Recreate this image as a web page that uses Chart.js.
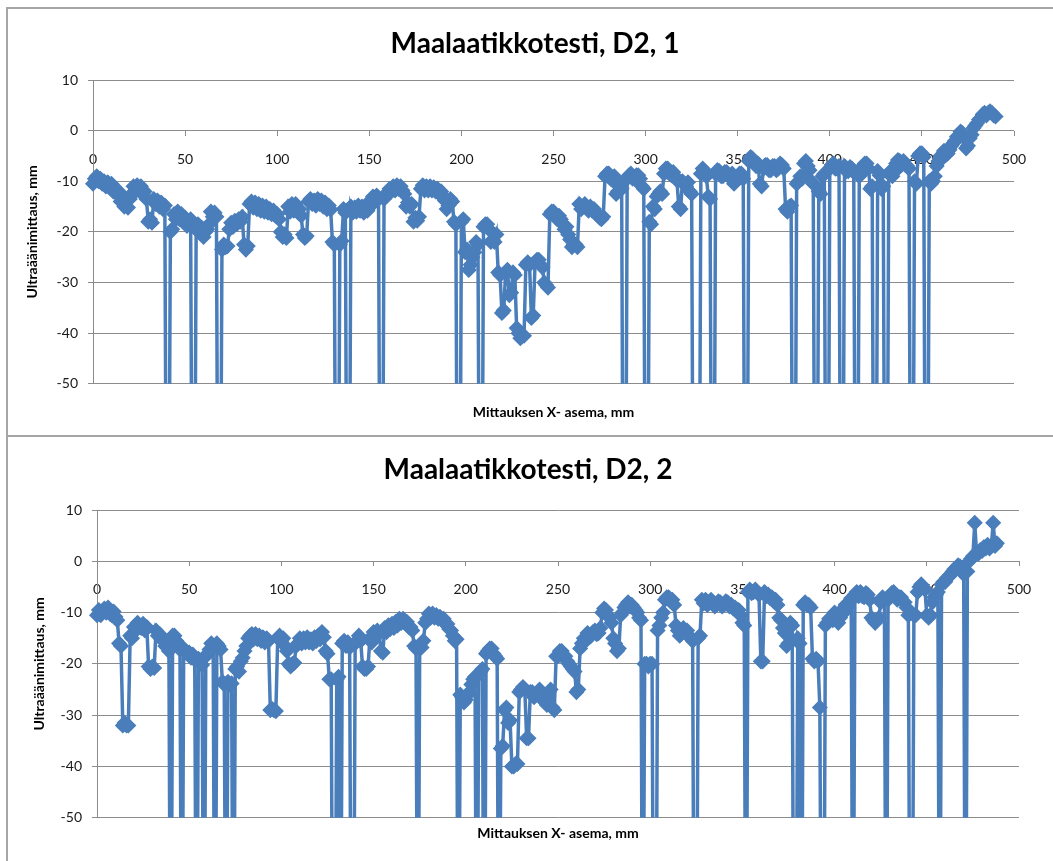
<!DOCTYPE html>
<html>
<head>
<meta charset="utf-8">
<script src="https://cdn.jsdelivr.net/npm/chart.js@4.4.1/dist/chart.umd.min.js"></script>
<style>
  html, body { margin: 0; padding: 0; background: #ffffff; width: 1053px; height: 861px; overflow: hidden; }
  .frame { position: absolute; box-sizing: border-box; border: 2px solid #a6a6a6; }
  #frame1 { left: 6px; top: 7px; width: 1200px; height: 430px; }
  #frame2 { left: 6px; top: 435px; width: 1200px; height: 600px; }
  canvas { position: absolute; }
  #chart1 { left: 8px; top: 9px; }
  #chart2 { left: 8px; top: 437px; }
</style>
</head>
<body>
<div class="frame" id="frame1"></div>
<div class="frame" id="frame2"></div>
<canvas id="chart1" width="1054" height="425"></canvas>
<canvas id="chart2" width="1054" height="424"></canvas>
<script>
// Measurement positions along the box (mm) and ultrasonic readings (mm).
// Readings of -100 are failed echoes that fall far below the plotted range.
const titleRun1 = 'Maalaatikkotesti, D2, 1';
const titleRun2 = 'Maalaatikkotesti, D2, 2';
const xAxisTitle = 'Mittauksen X- asema, mm';
const yAxisTitle = 'Ultraäänimittaus, mm';
const xTicks = [0, 50, 100, 150, 200, 250, 300, 350, 400, 450, 500];
const yTicks = [-50, -40, -30, -20, -10, 0, 10];

const positionsRun1 = [
  0, 1, 2, 3, 4, 5, 6, 7, 8, 9, 10, 11, 12, 13, 14, 15, 16, 17, 18, 19,
  20, 21, 22, 23, 24, 25, 26, 27, 28, 29, 30, 31, 32, 33, 34, 35, 36, 37, 38, 39,
  40, 41, 42, 43, 44, 45, 46, 47, 48, 49, 50, 51, 52, 53, 54, 55, 56, 57, 58, 59,
  60, 61, 62, 63, 64, 65, 66, 67, 68, 69, 70, 71, 72, 73, 74, 75, 76, 77, 78, 79,
  80, 81, 82, 83, 84, 85, 86, 87, 88, 89, 90, 91, 92, 93, 94, 95, 96, 97, 98, 99,
  100, 101, 102, 103, 104, 105, 106, 107, 108, 109, 110, 111, 112, 113, 114, 115, 116, 117, 118, 119,
  120, 121, 122, 123, 124, 125, 126, 127, 128, 129, 130, 131, 132, 133, 134, 135, 136, 137, 138, 139,
  140, 141, 142, 143, 144, 145, 146, 147, 148, 149, 150, 151, 152, 153, 154, 155, 156, 157, 158, 159,
  160, 161, 162, 163, 164, 165, 166, 167, 168, 169, 170, 171, 172, 173, 174, 175, 176, 177, 178, 179,
  180, 181, 182, 183, 184, 185, 186, 187, 188, 189, 190, 191, 192, 193, 194, 195, 196, 197, 198, 199,
  200, 201, 202, 203, 204, 205, 206, 207, 208, 209, 210, 211, 212, 213, 214, 215, 216, 217, 218, 219,
  220, 221, 222, 223, 224, 225, 226, 227, 228, 229, 230, 231, 232, 233, 234, 235, 236, 237, 238, 239,
  240, 241, 242, 243, 244, 245, 246, 247, 248, 249, 250, 251, 252, 253, 254, 255, 256, 257, 258, 259,
  260, 261, 262, 263, 264, 265, 266, 267, 268, 269, 270, 271, 272, 273, 274, 275, 276, 277, 278, 279,
  280, 281, 282, 283, 284, 285, 286, 287, 288, 289, 290, 291, 292, 293, 294, 295, 296, 297, 298, 299,
  300, 301, 302, 303, 304, 305, 306, 307, 308, 309, 310, 311, 312, 313, 314, 315, 316, 317, 318, 319,
  320, 321, 322, 323, 324, 325, 326, 327, 328, 329, 330, 331, 332, 333, 334, 335, 336, 337, 338, 339,
  340, 341, 342, 343, 344, 345, 346, 347, 348, 349, 350, 351, 352, 353, 354, 355, 356, 357, 358, 359,
  360, 361, 362, 363, 364, 365, 366, 367, 368, 369, 370, 371, 372, 373, 374, 375, 376, 377, 378, 379,
  380, 381, 382, 383, 384, 385, 386, 387, 388, 389, 390, 391, 392, 393, 394, 395, 396, 397, 398, 399,
  400, 401, 402, 403, 404, 405, 406, 407, 408, 409, 410, 411, 412, 413, 414, 415, 416, 417, 418, 419,
  420, 421, 422, 423, 424, 425, 426, 427, 428, 429, 430, 431, 432, 433, 434, 435, 436, 437, 438, 439,
  440, 441, 442, 443, 444, 445, 446, 447, 448, 449, 450, 451, 452, 453, 454, 455, 456, 457, 458, 459,
  460, 461, 462, 463, 464, 465, 466, 467, 468, 469, 470, 471, 472, 473, 474, 475, 476, 477, 478, 479,
  480, 481, 482, 483, 484, 485, 486, 487, 488, 489, 490
];
const readingsRun1 = [
  -10.5, -9.5, -9, -10, -9.5, -10.5, -10, -11, -10.2, -11.2,
  -10.5, -12, -11.5, -12.5, -12, -14, -13.5, -15, -14, -15.2,
  -13.5, -12.5, -11, -12, -10.8, -11.8, -11, -12.5, -12, -13.5,
  -18, -17.5, -18.2, -13.5, -14.5, -13.8, -15, -14.2, -15.5, -14.8,
  -100, -100, -20, -19.5, -16.5, -17.5, -16, -17.5, -16.5, -18,
  -17.2, -18.8, -18, -17.5, -100, -100, -19.5, -18.5, -20.2, -19.2,
  -21, -20, -19.5, -18.5, -16, -17, -16.2, -17, -100, -100,
  -23.5, -22.5, -23, -22.8, -19.5, -18.2, -19, -17.8, -18.5, -17.5,
  -18, -17, -22.5, -23.5, -22.8, -14.5, -14, -15.2, -14.2, -15.5,
  -14.5, -15.8, -14.8, -16, -15, -16.2, -15.5, -16.5, -15.8, -16.8,
  -16.5, -17.5, -20, -21, -20.5, -21.2, -15, -16, -14.5, -15.8,
  -14.5, -16, -15.5, -16.8, -20.5, -21.2, -20.8, -14, -13.5, -14.5,
  -13.8, -14.8, -13.5, -14.5, -13.8, -15, -14.2, -15.5, -14.8, -15.6,
  -22, -22.5, -100, -100, -22.5, -21.8, -15.5, -16.2, -100, -100,
  -15, -16.2, -15.2, -16, -14.8, -15.8, -15, -16.2, -15.2, -15.8,
  -14, -14.8, -13, -13.8, -12.8, -13.5, -100, -100, -13.5, -12.5,
  -12.5, -11.5, -12, -11, -11.8, -10.8, -11.5, -11, -11.8, -12.5,
  -15, -14.2, -15, -14.5, -18, -17.2, -17.8, -17, -11.5, -10.8,
  -11.8, -11, -11.8, -11, -11.8, -11.2, -12, -11.5, -12.5, -12,
  -13, -13.8, -15.5, -14.8, -13.5, -14, -18, -18.5, -100, -100,
  -18, -17.5, -24, -23.5, -27.5, -26.5, -25, -24, -22, -22.5,
  -100, -100, -19, -18.5, -18.5, -19.5, -22, -21.5, -22, -20.5,
  -28, -28.5, -36, -35.5, -28, -27.5, -32.5, -32, -28, -28.5,
  -39, -40, -41, -40.5, -40.5, -26.5, -26, -26.5, -37, -36.5,
  -26, -25.5, -25.5, -26.5, -27, -30, -30.5, -31, -16.5, -16,
  -16, -17, -17.5, -16.8, -17.5, -18.5, -19.5, -19, -20.5, -21.5,
  -23, -22.5, -22.5, -23, -14.5, -15.5, -15, -14.5, -15, -15.8,
  -15, -15.8, -15.5, -16.2, -16.5, -17.2, -17.5, -17, -9, -8.5,
  -8.5, -9.5, -9.8, -9, -12.5, -12, -11, -11.5, -100, -100,
  -9.5, -8.8, -8.5, -9.5, -9.5, -8.8, -8.8, -9.5, -11, -11.5,
  -100, -100, -18, -18.5, -15, -15.5, -13, -12.5, -12, -12.5,
  -8.5, -7.5, -7.5, -8.5, -8.8, -8.2, -9, -9.8, -15, -15.5,
  -10, -10.5, -11, -10.2, -12, -12.5, -100, -100, -100, -100,
  -8.5, -7.5, -8, -9, -13, -13.5, -100, -100, -8.5, -7.8,
  -8, -9, -9, -8.2, -8.2, -9, -9, -8.5, -10.5, -10,
  -9.2, -8.5, -8.5, -9.5, -100, -100, -6, -5.2, -5.5, -6.5,
  -7, -6.5, -10.5, -11, -7.5, -6.8, -6.8, -7.8, -7.8, -7,
  -7, -7.8, -7.5, -6.5, -6.8, -7.5, -15.5, -16, -15, -14.8,
  -100, -100, -10.5, -10, -9, -9.5, -6.5, -6, -7, -7.8,
  -10, -10.5, -100, -100, -12, -12.5, -9, -8.5, -100, -100,
  -7.5, -6.8, -6.5, -7.5, -7.5, -7, -100, -100, -7, -8,
  -8, -7.2, -7.5, -8.2, -100, -100, -9, -8.5, -7, -6.5,
  -6.5, -7.5, -11.5, -11, -100, -100, -8, -8.8, -11.5, -11,
  -100, -100, -8.5, -8, -9, -8.2, -6.5, -5.8, -6, -6.8,
  -6, -6.8, -7, -7.5, -100, -100, -10, -10.5, -5, -4.5,
  -4.5, -5.2, -100, -100, -10, -10.5, -10, -9, -7, -6,
  -5, -5.5, -4, -4.8, -4.5, -3.8, -3, -2.5, -2, -1.2,
  -1, -0.2, -0.5, -1.5, -3.5, -3, -1.5, -0.8, 0.5, 1,
  1.5, 2.2, 2.5, 3.2, 3.5, 3, 3.5, 3.8, 3.5, 3,
  2.8
];

const positionsRun2 = [
  0, 1, 2, 3, 4, 5, 6, 7, 8, 9, 10, 11, 12, 13, 14, 15, 16, 17, 18, 19,
  20, 21, 22, 23, 24, 25, 26, 27, 28, 29, 30, 31, 32, 33, 34, 35, 36, 37, 38, 39,
  40, 41, 42, 43, 44, 45, 46, 47, 48, 49, 50, 51, 52, 53, 54, 55, 56, 57, 58, 59,
  60, 61, 62, 63, 64, 65, 66, 67, 68, 69, 70, 71, 72, 73, 74, 75, 76, 77, 78, 79,
  80, 81, 82, 83, 84, 85, 86, 87, 88, 89, 90, 91, 92, 93, 94, 95, 96, 97, 98, 99,
  100, 101, 102, 103, 104, 105, 106, 107, 108, 109, 110, 111, 112, 113, 114, 115, 116, 117, 118, 119,
  120, 121, 122, 123, 124, 125, 126, 127, 128, 129, 130, 131, 132, 133, 134, 135, 136, 137, 138, 139,
  140, 141, 142, 143, 144, 145, 146, 147, 148, 149, 150, 151, 152, 153, 154, 155, 156, 157, 158, 159,
  160, 161, 162, 163, 164, 165, 166, 167, 168, 169, 170, 171, 172, 173, 174, 175, 176, 177, 178, 179,
  180, 181, 182, 183, 184, 185, 186, 187, 188, 189, 190, 191, 192, 193, 194, 195, 196, 197, 198, 199,
  200, 201, 202, 203, 204, 205, 206, 207, 208, 209, 210, 211, 212, 213, 214, 215, 216, 217, 218, 219,
  220, 221, 222, 223, 224, 225, 226, 227, 228, 229, 230, 231, 232, 233, 234, 235, 236, 237, 238, 239,
  240, 241, 242, 243, 244, 245, 246, 247, 248, 249, 250, 251, 252, 253, 254, 255, 256, 257, 258, 259,
  260, 261, 262, 263, 264, 265, 266, 267, 268, 269, 270, 271, 272, 273, 274, 275, 276, 277, 278, 279,
  280, 281, 282, 283, 284, 285, 286, 287, 288, 289, 290, 291, 292, 293, 294, 295, 296, 297, 298, 299,
  300, 301, 302, 303, 304, 305, 306, 307, 308, 309, 310, 311, 312, 313, 314, 315, 316, 317, 318, 319,
  320, 321, 322, 323, 324, 325, 326, 327, 328, 329, 330, 331, 332, 333, 334, 335, 336, 337, 338, 339,
  340, 341, 342, 343, 344, 345, 346, 347, 348, 349, 350, 351, 352, 353, 354, 355, 356, 357, 358, 359,
  360, 361, 362, 363, 364, 365, 366, 367, 368, 369, 370, 371, 372, 373, 374, 375, 376, 377, 378, 379,
  380, 381, 382, 383, 384, 385, 386, 387, 388, 389, 390, 391, 392, 393, 394, 395, 396, 397, 398, 399,
  400, 401, 402, 403, 404, 405, 406, 407, 408, 409, 410, 411, 412, 413, 414, 415, 416, 417, 418, 419,
  420, 421, 422, 423, 424, 425, 426, 427, 428, 429, 430, 431, 432, 433, 434, 435, 436, 437, 438, 439,
  440, 441, 442, 443, 444, 445, 446, 447, 448, 449, 450, 451, 452, 453, 454, 455, 456, 457, 458, 459,
  460, 461, 462, 463, 464, 465, 466, 467, 468, 469, 470, 471, 472, 473, 474, 475, 476, 477, 478, 479,
  480, 481, 482, 483, 484, 485, 486, 487, 488
];
const readingsRun2 = [
  -10.5, -9.5, -10.5, -9.8, -9.2, -10, -9, -10.2, -10.5, -9.8,
  -10.8, -11.5, -16, -16.5, -32, -31.5, -32, -32, -14.5, -15,
  -12.8, -13.5, -12, -12.8, -13, -12.2, -13.5, -12.8, -20.5, -21,
  -20.5, -20.8, -13.5, -14.5, -14.2, -15.2, -15.5, -16.5, -16.8, -17.5,
  -100, -14.5, -14.5, -15.5, -16.5, -17.2, -100, -17, -17.5, -18,
  -17.8, -18.8, -18.2, -19.2, -100, -19, -19.5, -20.2, -100, -18.5,
  -18, -17.2, -16, -16.8, -100, -16, -16.5, -17.2, -23.5, -24,
  -100, -23.5, -24, -23.8, -100, -21, -20.5, -21.5, -19.5, -18.8,
  -17.5, -16.5, -15, -14.5, -14.2, -15.2, -14.2, -15.2, -14.5, -15.5,
  -14.8, -15.8, -15, -15.5, -29, -28.8, -29, -29.2, -15, -14.5,
  -15.5, -15, -16.5, -17.5, -20, -20.5, -20, -19.8, -16.5, -16,
  -15, -16, -15, -15.8, -14.8, -15.8, -15.2, -16, -14.8, -15.5,
  -14.5, -15.2, -13.8, -14.8, -17.5, -18, -23, -23, -100, -100,
  -23, -22.5, -100, -16, -15.5, -16.5, -15.8, -16.8, -100, -100,
  -16, -15.5, -14.5, -15.5, -20.5, -21, -21, -20.5, -15, -15.8,
  -13.8, -14.8, -13.5, -14, -17.5, -17.8, -13, -13.8, -12.5, -13.2,
  -12.2, -13, -11.8, -12.5, -11.2, -12, -11.2, -12, -11.8, -12.8,
  -12.8, -13.5, -16.5, -17, -100, -16.5, -16.8, -15.5, -12, -11.2,
  -10.2, -11, -10.2, -11, -10.5, -11.2, -10.8, -11.5, -11.2, -12.2,
  -12.2, -13.2, -13.5, -14.5, -15.5, -15.2, -100, -26, -26.5, -27.5,
  -27, -26, -25.5, -24, -23, -22.5, -100, -22, -21.5, -21,
  -100, -18, -17.5, -17, -17, -18, -18.5, -19, -100, -36.5,
  -36, -29, -28.5, -31.5, -31, -40, -40, -39.5, -39.5, -25.5,
  -25, -24.5, -25, -34.5, -34.5, -25.5, -25.5, -26.5, -26, -25.5,
  -25, -26.5, -27, -27.5, -28, -25.5, -25, -28.5, -29, -18.5,
  -18.5, -17.5, -17.5, -18.5, -18.5, -19.5, -20, -20.5, -21, -21.5,
  -25.5, -25, -17, -16, -15, -15.5, -14, -14.8, -14.5, -13.8,
  -13.5, -14.2, -14, -13, -10, -9.2, -9.5, -10.5, -11, -12,
  -15, -16, -17.5, -17, -10.5, -10, -9, -8.5, -8, -8.8,
  -8.5, -9, -9.5, -10, -11, -11.5, -100, -20, -20, -20.5,
  -20, -20, -100, -100, -13.5, -12.5, -11, -10, -7.5, -7,
  -7, -7.8, -7.5, -8.5, -12.5, -13.5, -14.5, -14, -13, -13.8,
  -13.5, -14.5, -15, -15.5, -100, -100, -15, -14.5, -7.5, -8.2,
  -7.5, -8.5, -8, -7.5, -8, -8.8, -8.5, -7.8, -8, -8.8,
  -8.5, -7.8, -8, -8.8, -8.5, -9.2, -9, -9.8, -9.5, -10.5,
  -12, -12.5, -100, -6, -5.5, -6.2, -6, -5.5, -6, -6.5,
  -19.5, -19.5, -6, -6.8, -6.5, -7.2, -7, -7.8, -7.5, -8.5,
  -11, -11.5, -13, -14, -16.5, -16, -12, -12.5, -100, -100,
  -15, -16, -100, -8.5, -8, -8.5, -8.5, -9, -19, -19.5,
  -19, -19.5, -28.5, -100, -100, -12.5, -12, -11.2, -11, -11.5,
  -10, -11, -12, -11, -9.5, -10, -8.5, -9, -8, -7.2,
  -100, -6.5, -6, -6.8, -6, -6.8, -7, -6.2, -6.5, -7.5,
  -11, -11.5, -12, -11.5, -11, -8, -7, -7.5, -100, -7.5,
  -7, -6.2, -6, -6.8, -7.5, -7, -7, -7.8, -8, -9,
  -10.5, -100, -100, -10.5, -10.5, -6, -5, -4.5, -5, -5.5,
  -10.5, -11, -10.5, -8, -7, -6.5, -6, -100, -4.5, -4,
  -4, -3.2, -3, -2.5, -2, -1.5, -1.5, -0.8, -1, -1.5,
  -2.5, -100, -2, 0, 0.5, 1, 7.5, 1.5, 1.5, 2.2,
  2, 2.8, 2.5, 3.2, 2.5, 3, 7.5, 3, 3.5
];

const SERIES_BLUE = '#4a7ebb';
const GRID_GREY = '#8c8c8c';
const FONT = 'Lato, "Open Sans", sans-serif';

function drawRun(canvasId, positions, readings, titleText, box) {
  const points = positions.map((x, i) => ({ x: x, y: readings[i] }));
  return new Chart(document.getElementById(canvasId), {
    type: 'line',
    data: {
      datasets: [{
        data: points,
        borderColor: SERIES_BLUE,
        backgroundColor: SERIES_BLUE,
        borderWidth: 3.5,
        tension: 0,
        pointStyle: 'rectRot',
        pointRadius: 7,
        pointBorderWidth: 1.5,
        pointBackgroundColor: SERIES_BLUE,
        pointBorderColor: SERIES_BLUE,
        clip: { left: 12, top: 12, right: 12, bottom: 0 }
      }]
    },
    options: {
      responsive: false,
      animation: false,
      devicePixelRatio: 1,
      layout: { padding: { left: box.padLeft, right: box.padRight, top: 0, bottom: 0 } },
      plugins: {
        legend: { display: false },
        tooltip: { enabled: false },
        title: {
          display: true,
          text: titleText,
          color: '#000000',
          font: { family: FONT, size: 28, weight: 'bold', lineHeight: 1.2 },
          padding: { top: box.titleTop, bottom: box.titleBottom }
        },
        subtitle: {
          display: true,
          position: 'bottom',
          fullSize: false,
          text: xAxisTitle,
          color: '#000000',
          font: { family: FONT, size: 14, weight: 'bold', lineHeight: 1.2 },
          padding: { top: box.xTitleTop, bottom: box.xTitleBottom }
        }
      },
      scales: {
        x: {
          type: 'linear',
          position: { y: 0 },
          min: xTicks[0],
          max: xTicks[xTicks.length - 1],
          z: 1,
          afterBuildTicks: (scale) => { scale.ticks = xTicks.map(v => ({ value: v })); },
          ticks: { padding: 15, color: '#1a1a1a', font: { family: FONT, size: 14 }, maxRotation: 0, autoSkip: false },
          grid: { drawOnChartArea: false, drawTicks: true, tickLength: 5, color: GRID_GREY, lineWidth: 1 },
          border: { display: false }
        },
        y: {
          type: 'linear',
          min: yTicks[0],
          max: yTicks[yTicks.length - 1],
          afterBuildTicks: (scale) => { scale.ticks = yTicks.map(v => ({ value: v })); },
          afterFit: (scale) => { scale.width = box.yAxisWidth; },
          ticks: { padding: 10, color: '#1a1a1a', font: { family: FONT, size: 14 } },
          grid: { color: GRID_GREY, lineWidth: 1, tickLength: 5 },
          border: { display: true, color: GRID_GREY, width: 1 },
          title: {
            display: true,
            text: yAxisTitle,
            color: '#000000',
            font: { family: FONT, size: 14, weight: 'bold', lineHeight: 1.2 },
            padding: { top: box.yTitlePad, bottom: 0 }
          }
        }
      }
    }
  });
}

drawRun('chart1', positionsRun1, readingsRun1, titleRun1, {
  padLeft: 48, padRight: 48, yAxisWidth: 37, yTitlePad: -32.4,
  titleTop: 18, titleBottom: 19.4, xTitleTop: 20.2, xTitleBottom: 13.2
});
drawRun('chart2', positionsRun2, readingsRun2, titleRun2, {
  padLeft: 29, padRight: 43, yAxisWidth: 60, yTitlePad: -6.4,
  titleTop: 16.2, titleBottom: 23.2, xTitleTop: 7.2, xTitleBottom: 19.2
});
</script>
</body>
</html>
